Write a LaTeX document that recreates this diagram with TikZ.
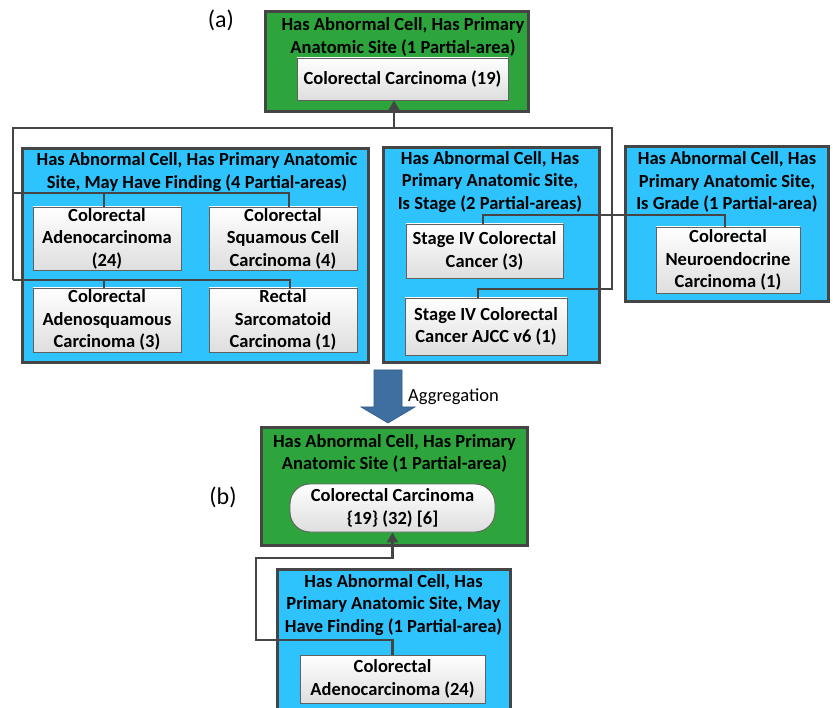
\documentclass[tikz,border=0pt]{standalone}
\usepackage{fontspec}
\setmainfont{Carlito}
\usetikzlibrary{arrows.meta}
\definecolor{edgegray}{HTML}{454545}
\definecolor{areagreen}{HTML}{2DA53C}
\definecolor{areablue}{HTML}{2EC3FD}
\definecolor{aggblue}{HTML}{3F6FA0}
\definecolor{aggedge}{HTML}{30598A}
\definecolor{boxshade}{HTML}{DEDEDE}
\tikzset{
  txt/.style={font=\fontsize{18.5}{22.5}\selectfont\bfseries, align=center, inner sep=0pt},
  area/.style={draw=edgegray, line width=3pt, inner sep=0pt},
  greenarea/.style={area, fill=areagreen},
  bluearea/.style={area, fill=areablue},
  concept/.style={draw=edgegray!85, line width=0.9pt, top color=white, bottom color=boxshade,
    txt, minimum width=#1},
  conn/.style={draw=edgegray, line width=2.7pt},
  tip/.style={-{Triangle[width=11pt,length=10pt]}},
  caption/.style={font=\fontsize{24}{28}\selectfont, inner sep=0pt}
}
\begin{document}
\begin{tikzpicture}[x=1pt,y=-1pt]
\useasboundingbox (0,0) rectangle (833,708);
\clip (0,0) rectangle (833,708);

% ---------- (a) partial-area taxonomy ----------
\node[caption] (capa) at (221,20) {(a)};

% root area
\node[greenarea, minimum width=263pt, minimum height=100pt] (root) at (396.5,62) {};
\node[txt] (roottitle) at (403,37) {Has Abnormal Cell, Has Primary\\Anatomic Site (1 Partial-area)};
\node[concept=211pt, minimum height=42pt] (cc) at (402.5,79) {Colorectal Carcinoma (19)};

% May Have Finding area
\node[bluearea, minimum width=346pt, minimum height=214pt] (mhf) at (195,256) {};
\node[txt] (mhftitle) at (197,172) {Has Abnormal Cell, Has Primary Anatomic\\Site, May Have Finding (4 Partial-areas)};
\node[concept=148pt, minimum height=63pt] (adeno) at (107,238.5) {Colorectal\\Adenocarcinoma\\(24)};
\node[concept=148pt, minimum height=63pt] (squam) at (283,238.5) {Colorectal\\Squamous Cell\\Carcinoma (4)};
\node[concept=148pt, minimum height=64pt] (adsq) at (107,320) {Colorectal\\Adenosquamous\\Carcinoma (3)};
\node[concept=148pt, minimum height=64pt] (sarc) at (283,320) {Rectal\\Sarcomatoid\\Carcinoma (1)};

% Is Stage area
\node[bluearea, minimum width=216pt, minimum height=215pt] (stage) at (491,255.5) {};
\node[txt] (stagetitle) at (490,182) {Has Abnormal Cell, Has\\Primary Anatomic Site,\\Is Stage (2 Partial-areas)};
\node[concept=157pt, minimum height=54pt] (st4) at (484.5,251) {Stage IV Colorectal\\Cancer (3)};
\node[concept=162pt, minimum height=57pt] (ajcc) at (486,326.5) {Stage IV Colorectal\\Cancer AJCC v6 (1)};

% Is Grade area
\node[bluearea, minimum width=203pt, minimum height=155pt] (grade) at (726.5,224.5) {};
\node[txt] (gradetitle) at (727,182) {Has Abnormal Cell, Has\\Primary Anatomic Site,\\Is Grade (1 Partial-area)};
\node[concept=144pt, minimum height=66pt] (neuro) at (728,260) {Colorectal\\Neuroendocrine\\Carcinoma (1)};

% connector bends and tap points
\coordinate (hub)   at (394,128);
\coordinate (busL)  at (13,128);
\coordinate (busR)  at (612,128);
\coordinate (rowA)  at (13,193);
\coordinate (rowB)  at (13,280);
\coordinate (stJog) at (612,289);
\coordinate (grJog) at (483,215);
\coordinate (adenoTap) at ([xshift=-3pt]adeno.north);
\coordinate (squamTap) at ([xshift=6pt]squam.north);
\coordinate (adsqTap)  at ([xshift=-3pt]adsq.north);
\coordinate (sarcTap)  at ([xshift=7pt]sarc.north);
\coordinate (ajccTap)  at ([xshift=-8pt]ajcc.north);
\coordinate (neuroTap) at ([xshift=-3pt]neuro.north);

\draw[conn] (rowB) -- (busL) -- (busR) -- (stJog) -| (ajccTap);
\draw[conn] (rowA) -| (squamTap);
\draw[conn] (rowA -| adenoTap) -- (adenoTap);
\draw[conn] (rowB) -| (sarcTap);
\draw[conn] (rowB -| adsqTap) -- (adsqTap);
\draw[conn] (neuroTap) |- (grJog) -- (grJog |- st4.north);
\draw[conn, tip] (hub) -- (hub |- cc.south);

% ---------- aggregation arrow ----------
\draw[fill=aggblue, draw=aggedge, line width=0.6pt]
  (374,370) -- (402,370) -- (402,407) -- (415,407) -- (388,423) -- (361,407) -- (374,407) -- cycle;
\node[font=\fontsize{18.5}{22.5}\selectfont, anchor=west, inner sep=0pt] (aggtext) at (408,397) {Aggregation};

% ---------- (b) aggregate partial-area taxonomy ----------
\node[caption] (capb) at (223,497) {(b)};

\node[greenarea, minimum width=266pt, minimum height=117pt] (aroot) at (394,486.5) {};
\node[txt] (aroottitle) at (394.5,453.5) {Has Abnormal Cell, Has Primary\\Anatomic Site (1 Partial-area)};
\node[concept=205pt, minimum height=48pt, rounded corners=20pt] (acc) at (392.5,508) {Colorectal Carcinoma\\\{19\} (32) [6]};

\node[bluearea, minimum width=233pt, minimum height=170pt] (amhf) at (393.5,654) {};
\node[txt] (amhftitle) at (393.5,605) {Has Abnormal Cell, Has\\Primary Anatomic Site, May\\Have Finding (1 Partial-area)};
\node[concept=185pt, minimum height=48pt] (aadeno) at (392.5,679) {Colorectal\\Adenocarcinoma (24)};

\coordinate (loopT) at (256,558);
\coordinate (loopB) at (256,640);
\draw[conn, tip] (aadeno.north) -- (aadeno.north |- loopB) -- (loopB) -- (loopT) -- (aadeno.north |- loopT) -- (aadeno.north |- acc.south);
\end{tikzpicture}
\end{document}
